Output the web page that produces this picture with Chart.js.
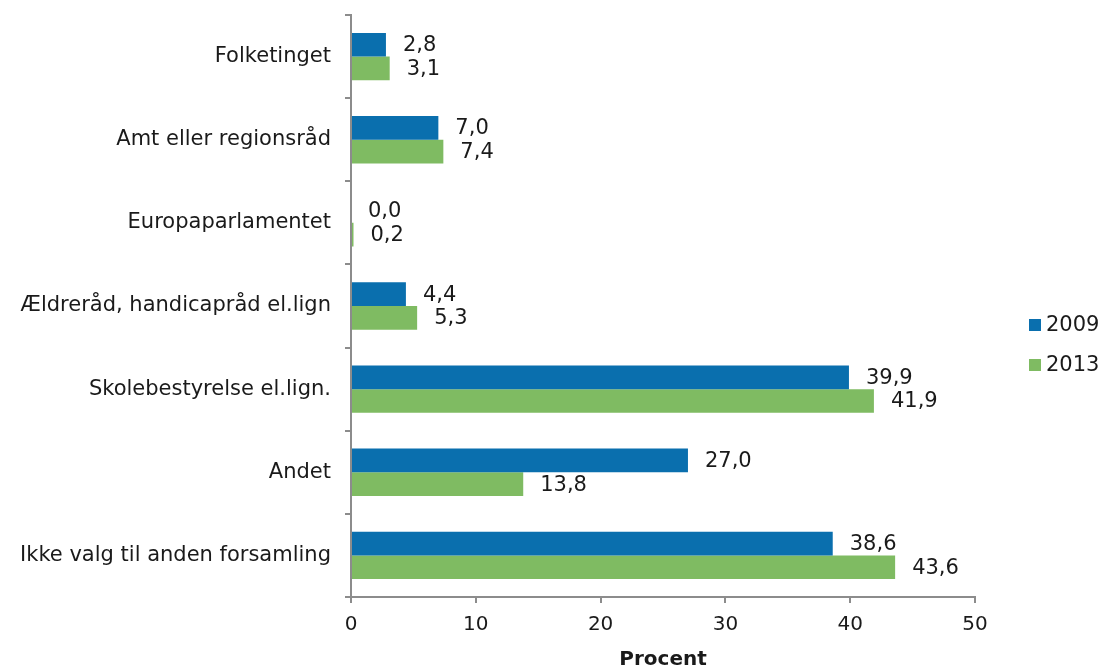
<!DOCTYPE html>
<html>
<head>
<meta charset="utf-8">
<script src="https://cdn.jsdelivr.net/npm/chart.js@4/dist/chart.umd.min.js"></script>
<style>
  html, body { margin: 0; padding: 0; background: #fff; }
  #wrap { width: 1101px; height: 666px; }
</style>
</head>
<body>
<div id="wrap"><canvas id="myChart" width="1101" height="666"></canvas></div>
<script>
var categories = [
  "Folketinget",
  "Amt eller regionsråd",
  "Europaparlamentet",
  "Ældreråd, handicapråd el.lign",
  "Skolebestyrelse el.lign.",
  "Andet",
  "Ikke valg til anden forsamling"
];
var values2009 = [2.8, 7.0, 0.0, 4.4, 39.9, 27.0, 38.6];
var values2013 = [3.1, 7.4, 0.2, 5.3, 41.9, 13.8, 43.6];
var xTicks = [0, 10, 20, 30, 40, 50];

var fontFam = "'DejaVu Sans', Verdana, sans-serif";
var textColor = "#1a1a1a";
var axisColor = "#8c8c8c";

// draws the value next to each bar, danish style with comma
var barLabels = {
  id: "barLabels",
  afterDatasetsDraw: function(chart) {
    var ctx = chart.ctx;
    ctx.save();
    ctx.font = "21px " + fontFam;
    ctx.fillStyle = textColor;
    ctx.textBaseline = "middle";
    ctx.textAlign = "left";
    chart.data.datasets.forEach(function(ds, i) {
      var meta = chart.getDatasetMeta(i);
      meta.data.forEach(function(bar, j) {
        var txt = ds.data[j].toFixed(1).replace(".", ",");
        ctx.fillText(txt, bar.x + 17, bar.y + 1);
      });
    });
    ctx.restore();
  }
};

// small legend to the right of the plot, excel style (tight gap between box and text)
var sideLegend = {
  id: "sideLegend",
  afterDraw: function(chart) {
    var ctx = chart.ctx;
    var area = chart.chartArea;
    var x = area.right + 54;
    var y = (area.top + area.bottom) / 2 + 19;
    ctx.save();
    ctx.font = "21px " + fontFam;
    ctx.textBaseline = "middle";
    ctx.textAlign = "left";
    chart.data.datasets.forEach(function(ds, i) {
      var yy = y + i * 40;
      ctx.fillStyle = ds.backgroundColor;
      ctx.fillRect(x, yy - 6, 12, 12);
      ctx.fillStyle = textColor;
      ctx.fillText(ds.label, x + 17, yy + 1);
    });
    ctx.restore();
  }
};

var ctx = document.getElementById("myChart").getContext("2d");
var myChart = new Chart(ctx, {
  type: "bar",
  data: {
    labels: categories,
    datasets: [
      {
        label: "2009",
        data: values2009,
        backgroundColor: "#0a6fae",
        categoryPercentage: 0.57,
        barPercentage: 1.0
      },
      {
        label: "2013",
        data: values2013,
        backgroundColor: "#7fbb62",
        categoryPercentage: 0.57,
        barPercentage: 1.0
      }
    ]
  },
  options: {
    indexAxis: "y",
    responsive: false,
    animation: false,
    layout: { padding: { top: 15, left: 0, right: 0, bottom: 0 } },
    plugins: {
      tooltip: { enabled: false },
      legend: { display: false }
    },
    scales: {
      x: {
        min: 0,
        max: 50,
        afterBuildTicks: function(scale) {
          scale.ticks = xTicks.map(function(v) { return { value: v }; });
        },
        afterFit: function(scale) {
          scale.height = 69;
          scale.paddingRight = 126;
        },
        border: { color: axisColor, width: 2 },
        grid: { drawOnChartArea: false, drawTicks: true, tickLength: 6, color: axisColor, lineWidth: 2 },
        ticks: { color: textColor, padding: 10, font: { family: fontFam, size: 20 } },
        title: {
          display: true,
          text: "Procent",
          color: textColor,
          font: { family: fontFam, size: 20, weight: "bold" },
          padding: { top: 0, bottom: -6 }
        }
      },
      y: {
        offset: true,
        afterFit: function(scale) {
          scale.width = 351;
          scale.paddingTop = 0;
          scale.paddingBottom = 0;
        },
        border: { color: axisColor, width: 2 },
        grid: { offset: true, drawOnChartArea: false, drawTicks: true, tickLength: 6, color: axisColor, lineWidth: 2 },
        ticks: { color: textColor, padding: 14, font: { family: fontFam, size: 21 } }
      }
    }
  },
  plugins: [barLabels, sideLegend]
});
</script>
</body>
</html>
